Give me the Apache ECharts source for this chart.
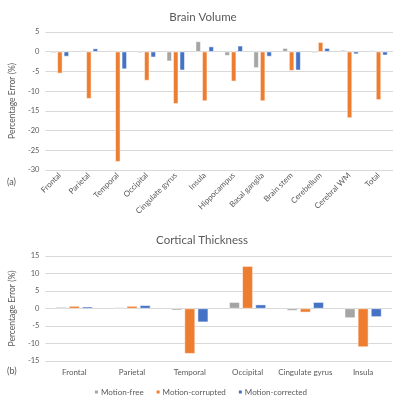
<!DOCTYPE html>
<html>
<head>
<meta charset="utf-8">
<script src="https://cdn.jsdelivr.net/npm/echarts@6/dist/echarts.min.js"></script>
<style>
  html, body { margin: 0; padding: 0; background: #fff; }
  #chart { width: 400px; height: 397px; }
</style>
</head>
<body>
<div id="chart"></div>
<script>
// values (percentage error, %)
const volumeRegions = ['Frontal', 'Parietal', 'Temporal', 'Occipital', 'Cingulate gyrus', 'Insula',
  'Hippocampus', 'Basal ganglia', 'Brain stem', 'Cerebellum', 'Cerebral WM', 'Total']
const volumeFree = [-0.3, 0.3, 0.3, -0.3, -2.4, 2.6, -1.0, -4.1, 0.9, -0.3, 0.4, 0.3]
const volumeCorrupted = [-5.5, -11.9, -27.9, -7.3, -13.2, -12.5, -7.5, -12.5, -4.8, 2.4, -16.8, -12.2]
const volumeCorrected = [-1.2, 0.8, -4.4, -1.4, -4.7, 1.3, 1.5, -1.2, -4.7, 0.9, -0.6, -0.9]

const thicknessRegions = ['Frontal', 'Parietal', 'Temporal', 'Occipital', 'Cingulate gyrus', 'Insula']
const thicknessFree = [0.4, 0.3, -0.5, 1.8, -0.6, -2.7]
const thicknessCorrupted = [0.7, 0.7, -12.9, 12.1, -1.1, -11.0]
const thicknessCorrected = [0.5, 0.9, -3.9, 1.1, 1.8, -2.4]

const seriesNames = ['Motion-free', 'Motion-corrupted', 'Motion-corrected']
const colors = ['#A5A5A5', '#ED7D31', '#4472C4']

const FONT = 'Lato, "Open Sans", sans-serif'
const TEXT = '#595959'

function bars (name, data, idx, color, width, gap) {
  return {
    type: 'bar',
    name,
    data,
    xAxisIndex: idx,
    yAxisIndex: idx,
    barWidth: width,
    barGap: gap,
    itemStyle: { color, borderColor: '#fff', borderWidth: 0.5 },
    emphasis: { disabled: true },
  }
}

function catAxis (idx, cats, rotate, margin) {
  return {
    type: 'category',
    gridIndex: idx,
    data: cats,
    position: 'bottom',
    axisLine: { show: false, onZero: false },
    axisTick: { show: false },
    axisLabel: { rotate, margin, fontSize: 8, color: TEXT, fontFamily: FONT, interval: 0 },
  }
}

function valAxis (idx, min, max) {
  return {
    type: 'value',
    gridIndex: idx,
    min,
    max,
    interval: 5,
    name: 'Percentage Error (%)',
    nameLocation: 'middle',
    nameRotate: 90,
    nameGap: 22,
    nameTextStyle: { fontSize: 8.5, color: TEXT, fontFamily: FONT },
    axisLine: { show: false },
    axisTick: { show: false },
    axisLabel: { margin: 6, fontSize: 7.5, color: TEXT, fontFamily: FONT },
    splitLine: { lineStyle: { color: '#D9D9D9', width: 1 } },
  }
}

const chart = echarts.init(document.getElementById('chart'), null, { renderer: 'canvas' })

chart.setOption({
  animation: false,
  backgroundColor: '#fff',
  color: colors,
  title: [
    { text: 'Brain Volume', left: 198, top: 6, textAlign: 'center',
      textStyle: { fontSize: 11.5, fontWeight: 'normal', color: TEXT, fontFamily: FONT } },
    { text: 'Cortical Thickness', left: 197, top: 229, textAlign: 'center',
      textStyle: { fontSize: 11.5, fontWeight: 'normal', color: TEXT, fontFamily: FONT } },
  ],
  legend: {
    data: seriesNames,
    left: 'center',
    top: 383,
    icon: 'rect',
    itemWidth: 5,
    itemHeight: 5,
    itemGap: 11,
    textStyle: { fontSize: 8, color: TEXT, fontFamily: FONT, padding: [0, 0, 0, -3] },
  },
  graphic: [
    { type: 'text', left: 7, top: 178, style: { text: '(a)', fontSize: 9, fill: TEXT, fontFamily: FONT } },
    { type: 'text', left: 7, top: 367, style: { text: '(b)', fontSize: 9, fill: TEXT, fontFamily: FONT } },
  ],
  grid: [
    { left: 35, right: 7, top: 32, bottom: 227 },
    { left: 35, right: 8, top: 256, bottom: 36 },
  ],
  xAxis: [
    catAxis(0, volumeRegions, 45, 4),
    catAxis(1, thicknessRegions, 0, 7),
  ],
  yAxis: [
    valAxis(0, -30, 5),
    valAxis(1, -15, 15),
  ],
  series: [
    bars(seriesNames[0], volumeFree, 0, colors[0], 5, '30%'),
    bars(seriesNames[1], volumeCorrupted, 0, colors[1], 5, '30%'),
    bars(seriesNames[2], volumeCorrected, 0, colors[2], 5, '30%'),
    bars(seriesNames[0], thicknessFree, 1, colors[0], 10.5, '25%'),
    bars(seriesNames[1], thicknessCorrupted, 1, colors[1], 10.5, '25%'),
    bars(seriesNames[2], thicknessCorrected, 1, colors[2], 10.5, '25%'),
  ],
})
</script>
</body>
</html>
